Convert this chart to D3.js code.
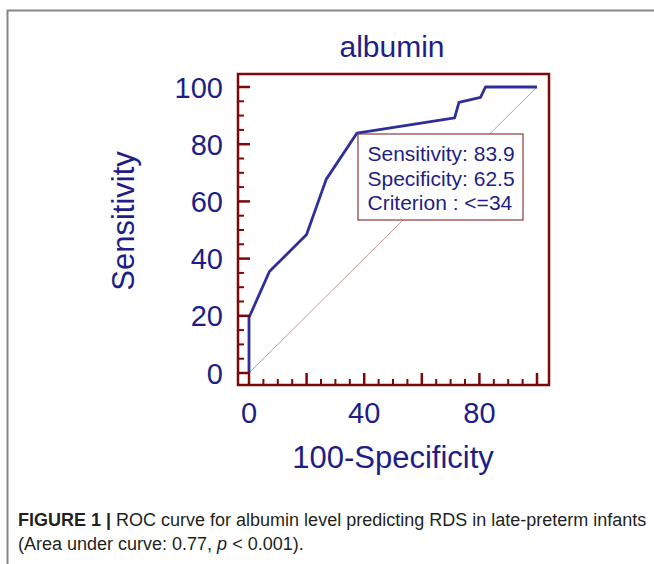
<!DOCTYPE html>
<html>
<head>
<meta charset="utf-8">
<script src="https://cdn.jsdelivr.net/npm/d3@7"></script>
<style>
  html, body { margin: 0; padding: 0; background: #fff; }
  svg { display: block; }
</style>
</head>
<body>
<svg id="chart" width="654" height="564"></svg>
<script>
// ---- data ----
const fpr = [0, 0, 7.1, 20, 26.8, 37.5, 71.4, 72.9, 80.4, 82.1, 100];          // 100-Specificity
const tpr = [0, 19.4, 35.5, 48.4, 67.7, 83.9, 89.2, 94.6, 96.4, 100, 100];      // Sensitivity
const yTickLabels = [0, 20, 40, 60, 80, 100];
const xTickLabels = [0, 40, 80];
const majorTicks = [0, 20, 40, 60, 80, 100];
const minorTicks = d3.range(0, 101, 5);
const boxLines = ["Sensitivity: 83.9", "Specificity: 62.5", "Criterion : <=34"];
const titleText = "albumin";
const xTitle = "100-Specificity";
const yTitle = "Sensitivity";
const captionBold = "FIGURE 1 |";
const captionRest = " ROC curve for albumin level predicting RDS in late-preterm infants";
const captionLine2a = "(Area under curve: 0.77, ";
const captionLine2p = "p";
const captionLine2b = " < 0.001).";

// ---- layout ----
const svg = d3.select("#chart");
const navy = "#1e1e86";
const frameColor = "#7a0a0a";
const font = "'Liberation Sans', Arial, Helvetica, sans-serif";

const x = d3.scaleLinear().domain([0, 100]).range([249, 537]);
const y = d3.scaleLinear().domain([0, 100]).range([373, 87]);
const frame = { x0: 238, y0: 74, x1: 549, y1: 385 };

// figure border (top + left)
svg.append("path")
  .attr("d", `M7.5,564 L7.5,10.5 L654,10.5`)
  .attr("fill", "none").attr("stroke", "#858585").attr("stroke-width", 2);

// diagonal reference
svg.append("line")
  .attr("x1", x(0)).attr("y1", y(0)).attr("x2", x(100)).attr("y2", y(100))
  .attr("stroke", "#c49a9a").attr("stroke-width", 1);

// ROC curve
const line = d3.line().x((d, i) => x(fpr[i])).y((d, i) => y(tpr[i]));
svg.append("path")
  .datum(fpr)
  .attr("d", line)
  .attr("fill", "none").attr("stroke", "#2f2f9a").attr("stroke-width", 2.8)
  .attr("stroke-linejoin", "round");

// frame
svg.append("rect")
  .attr("x", frame.x0).attr("y", frame.y0)
  .attr("width", frame.x1 - frame.x0).attr("height", frame.y1 - frame.y0)
  .attr("fill", "none").attr("stroke", frameColor).attr("stroke-width", 2.5);

// y ticks (inward from left frame)
svg.append("g").selectAll("line").data(minorTicks).join("line")
  .attr("x1", frame.x0).attr("x2", d => majorTicks.includes(d) ? x(0) + 1 : frame.x0 + 6)
  .attr("y1", d => y(d)).attr("y2", d => y(d))
  .attr("stroke", frameColor).attr("stroke-width", d => majorTicks.includes(d) ? 2.5 : 2);

// x ticks (inward from bottom frame)
svg.append("g").selectAll("line").data(minorTicks).join("line")
  .attr("y1", frame.y1).attr("y2", d => majorTicks.includes(d) ? y(0) : frame.y1 - 6)
  .attr("x1", d => x(d)).attr("x2", d => x(d))
  .attr("stroke", frameColor).attr("stroke-width", d => majorTicks.includes(d) ? 2.5 : 2);

// tick labels
svg.append("g").selectAll("text").data(yTickLabels).join("text")
  .attr("x", 223).attr("y", d => y(d) + 10.5)
  .attr("text-anchor", "end")
  .attr("font-family", font).attr("font-size", 29).attr("fill", navy)
  .text(d => d);

svg.append("g").selectAll("text").data(xTickLabels).join("text")
  .attr("x", d => x(d)).attr("y", 423)
  .attr("text-anchor", "middle")
  .attr("font-family", font).attr("font-size", 29).attr("fill", navy)
  .text(d => d);

// title
svg.append("text")
  .attr("x", 392).attr("y", 57).attr("text-anchor", "middle")
  .attr("font-family", font).attr("font-size", 30).attr("fill", navy)
  .text(titleText);

// axis titles
svg.append("text")
  .attr("x", 393).attr("y", 468).attr("text-anchor", "middle")
  .attr("font-family", font).attr("font-size", 31).attr("fill", navy)
  .text(xTitle);

svg.append("text")
  .attr("transform", "translate(134,221) rotate(-90)")
  .attr("text-anchor", "middle")
  .attr("font-family", font).attr("font-size", 31).attr("fill", navy)
  .text(yTitle);

// criterion box
svg.append("rect")
  .attr("x", 358).attr("y", 134).attr("width", 165).attr("height", 86)
  .attr("fill", "#fff").attr("stroke", "#8a3a3a").attr("stroke-width", 1.2);

svg.append("g").selectAll("text").data(boxLines).join("text")
  .attr("x", 367.5).attr("y", (d, i) => 161 + i * 24.6)
  .attr("font-family", font).attr("font-size", 21).attr("fill", navy)
  .text(d => d);

// caption
const cap1 = svg.append("text")
  .attr("x", 18).attr("y", 526)
  .attr("font-family", font).attr("font-size", 18).attr("fill", "#231f20");
cap1.append("tspan").attr("font-weight", "bold").text(captionBold);
cap1.append("tspan").text(captionRest);

const cap2 = svg.append("text")
  .attr("x", 18).attr("y", 550)
  .attr("font-family", font).attr("font-size", 18).attr("fill", "#231f20");
cap2.append("tspan").text(captionLine2a);
cap2.append("tspan").attr("font-style", "italic").text(captionLine2p);
cap2.append("tspan").text(captionLine2b);
</script>
</body>
</html>
